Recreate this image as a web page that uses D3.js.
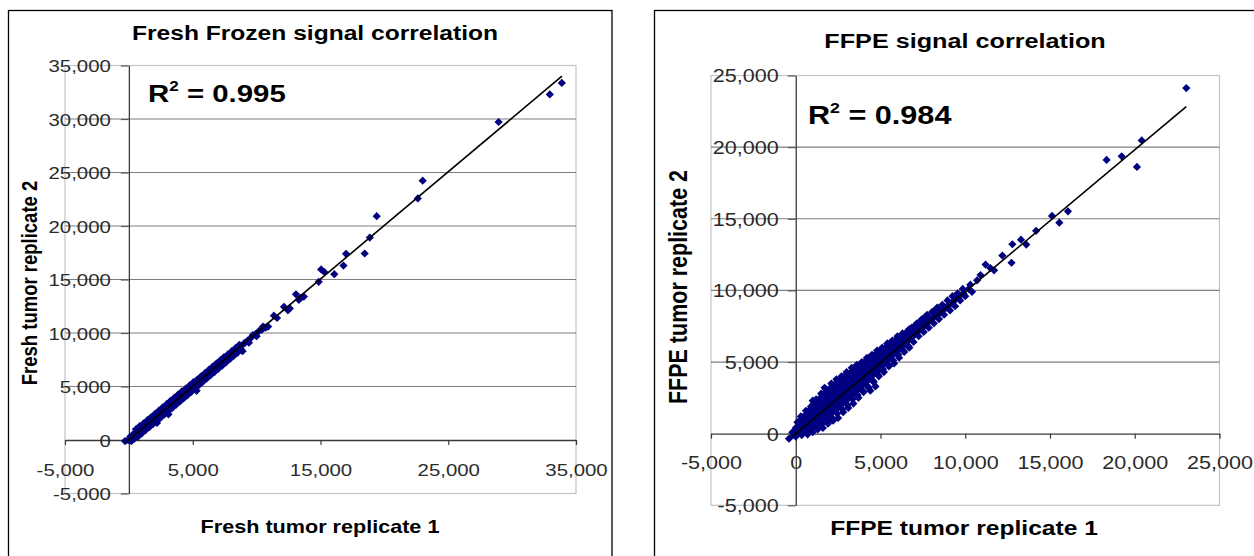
<!DOCTYPE html>
<html>
<head>
<meta charset="utf-8">
<script src="https://cdn.jsdelivr.net/npm/d3@7"></script>
<style>
  body { margin: 0; background: #fff; }
  svg { display: block; }
  text { font-family: "Liberation Sans", Arial, sans-serif; }
</style>
</head>
<body>
<svg id="chart" width="1254" height="556"></svg>
<script>
// ---------------- DATA ----------------
const freshTitle = "Fresh Frozen signal correlation";
const freshXLabel = "Fresh tumor replicate 1";
const freshYLabel = "Fresh tumor replicate 2";
const freshR2 = "0.995";
const freshXTicks = [-5000, 5000, 15000, 25000, 35000];
const freshYTicks = [-5000, 0, 5000, 10000, 15000, 20000, 25000, 30000, 35000];
const freshTrend = [[-200, -200], [33900, 34000]];
// dense core of the point cloud: [x, lowest y, highest y]
const freshCore = [
  [-350,-300,0],[0,-350,450],[1000,550,1450],[2000,1550,2450],[3000,2620,3380],
  [4000,3680,4320],[5000,4720,5280],[6000,5750,6250],[7000,6780,7220],
  [8000,7820,8180],[9000,8850,9150],[10000,9880,10120]
];
const freshPoints = [
  [-300,-100],[0,0],[100,300],[200,-100],[300,500],[400,100],[350,300],
  [600,600],[550,1000],[700,300],[650,800],
  [900,900],[850,1300],[1000,600],[950,1100],
  [1200,1200],[1150,1550],[1300,900],[1250,1400],
  [1500,1500],[1450,1850],[1600,1200],[1550,1700],
  [1800,1800],[1750,2150],[1900,1500],[1850,2000],
  [2100,2100],[2050,2450],[2200,1800],[2150,2300],[2200,1600],
  [2400,2400],[2350,2750],[2500,2100],[2450,2600],
  [2700,2700],[2650,3050],[2800,2400],[2750,2900],
  [3000,3000],[2950,3350],[3100,2700],[3100,2400],
  [3300,3300],[3250,3650],[3400,3000],
  [3600,3600],[3550,3950],[3700,3300],
  [3900,3900],[3850,4250],[4000,3600],
  [4200,4200],[4150,4550],[4300,3900],
  [4500,4500],[4450,4800],[4600,4200],
  [4800,4800],[4750,5100],[4900,4500],
  [5100,5100],[5050,5400],[5200,4800],[5300,4600],
  [5400,5400],[5350,5650],[5500,5150],
  [5700,5700],[5650,5950],[5800,5450],
  [6000,6000],[5950,6250],[6100,5750],
  [6300,6300],[6250,6550],[6400,6050],
  [6600,6600],[6550,6850],[6700,6350],
  [6900,6900],[6850,7150],[7000,6650],
  [7200,7200],[7150,7450],[7300,6950],
  [7500,7500],[7450,7750],[7600,7250],
  [7800,7800],[7750,8000],[7900,7550],
  [8100,8100],[8050,8300],[8200,7850],
  [8400,8400],[8350,8600],[8500,8150],
  [8700,8700],[8650,8900],[8800,8450],[8900,8300],
  [9000,9000],[9100,9100],[9300,9300],[9400,9100],[9600,9600],[9700,9800],
  [9900,9900],[10000,9700],[10200,10200],[10400,10300],[10500,10600],[10700,10500],[10900,10600],
  [11350,11620],[11600,11400],[12140,12450],[12450,12120],[12600,12300],
  [13080,13610],[13450,13280],[13300,13100],[13700,13400],
  [14860,14780],[15050,15940],[15300,15700],[16080,15500],
  [16800,16300],[17000,17400],[18460,17430],[18860,18920],[19400,20920],
  [22620,22580],[23000,24240],[28940,29720],[32950,32300],[33890,33370]
];

const ffpeTitle = "FFPE signal correlation";
const ffpeXLabel = "FFPE tumor replicate 1";
const ffpeYLabel = "FFPE tumor replicate 2";
const ffpeR2 = "0.984";
const ffpeXTicks = [-5000, 0, 5000, 10000, 15000, 20000, 25000];
const ffpeYTicks = [-5000, 0, 5000, 10000, 15000, 20000, 25000];
const ffpeTrend = [[-200, -200], [23040, 22830]];
const ffpeCore = [
  [-400,-400,-250],[0,-300,550],[500,-100,1400],[1000,200,2100],[1500,600,2750],
  [2000,1050,3250],[2500,1550,3750],[3000,2050,4200],[3500,2600,4650],
  [4000,3150,5050],[4500,3750,5450],[5000,4350,5800],[5500,4950,6200],
  [6000,5500,6600],[6500,6050,7000],[7000,6600,7400],[7500,7150,7850],
  [8000,7700,8300],[8500,8200,8750],[9000,8700,9200],[9500,9200,9700],[10000,9750,10150]
];
const ffpePoints = [
  [-400,-350],[-200,100],[0,-200],[0,400],[100,800],[150,0],
  [300,300],[250,900],[350,-100],[300,1200],
  [600,600],[550,1300],[650,100],[600,1600],[700,-50],
  [900,900],[850,1700],[950,300],[900,1900],[1000,100],[850,1300],
  [1200,1200],[1150,2100],[1250,500],[1200,2400],[1300,300],[1150,1700],[1250,800],
  [1500,1500],[1450,2500],[1550,700],[1500,2800],[1600,400],[1450,2000],[1550,1000],
  [1800,1800],[1750,2900],[1850,900],[1800,3100],[1900,700],[1750,2400],[1850,1300],
  [2100,2100],[2050,3200],[2150,1100],[2100,3500],[2200,900],[2050,2700],[2150,1500],
  [2400,2400],[2350,3500],[2450,1400],[2400,3800],[2500,1100],[2350,2900],[2450,1800],
  [2700,2700],[2650,3800],[2750,1700],[2700,4000],[2800,1500],[2650,3300],[2750,2100],
  [3000,3000],[2950,4100],[3050,2000],[3000,4300],[3100,1800],[2950,3600],[3050,2400],
  [3300,3300],[3250,4300],[3350,2400],[3300,4600],[3400,2100],[3250,3900],[3350,2800],
  [3600,3600],[3550,4600],[3650,2700],[3600,4800],[3700,2500],[3550,4200],[3650,3100],
  [3900,3900],[3850,4800],[3950,3000],[3900,5000],[4000,2900],[3850,4400],[3950,3400],
  [4200,4200],[4150,5100],[4250,3300],[4200,5300],[4300,3200],[4150,4700],[4250,3700],
  [4500,4500],[4450,5400],[4550,3700],[4500,5500],[4600,3600],[4450,5000],[4550,4100],
  [4800,4800],[4750,5600],[4850,4100],[4800,5800],[4900,4000],[4750,5300],[4850,4400],
  [5100,5100],[5050,5800],[5150,4500],[5100,6000],[5200,4300],[5050,5500],
  [5400,5400],[5350,6100],[5450,4800],[5400,6300],[5500,4700],
  [5700,5700],[5650,6400],[5750,5100],[5700,6500],[5800,4900],
  [6000,6000],[5950,6600],[6050,5500],[6000,6800],[6100,5300],
  [6300,6300],[6250,6900],[6350,5800],[6300,7000],[6400,5700],
  [6600,6600],[6550,7100],[6650,6100],[6700,7300],[6700,6000],
  [6900,6900],[6850,7400],[6950,6400],[7000,7500],
  [7200,7200],[7150,7700],[7250,6800],[7300,7800],
  [7500,7500],[7450,8000],[7550,7100],[7600,8100],
  [7800,7800],[7750,8300],[7850,7400],
  [8100,8100],[8050,8500],[8150,7700],[8200,8600],
  [8400,8300],[8350,8800],[8450,8000],
  [8700,8600],[8650,9000],[8750,8300],
  [9000,8900],[8950,9300],[9100,8600],
  [9300,9200],[9250,9600],[9400,8900],
  [9600,9500],[9550,9800],[9700,9300],
  [9900,9800],[9850,10100],[10000,9600],
  [10200,10100],[10300,10400],[10400,9900],
  [4400,3000],[4700,3300],[1000,2300],[1700,3200],
  [10700,10700],[10900,11070],[11200,11800],[11480,11560],[11700,11400],
  [12190,12430],[12730,11930],[12780,13220],[13290,13540],[13600,13200],
  [14180,14160],[15120,15200],[15550,14730],[16060,15520],
  [18340,19110],[19230,19360],[20130,18620],[20410,20470],[23040,24120]
];

// ---------------- DRAWING ----------------
const SX = 1.2;            // horizontal stretch seen in the source image
const fmt = d => d3.format(",")(d).replace("\u2212", "-");
const svg = d3.select("#chart");
const NAVY = "#000080";

function stretchedText(g, x, y, str, size, anchor, weight, rotate) {
  return g.append("text")
    .attr("transform", `translate(${x},${y}) scale(${SX},1)` + (rotate ? ` rotate(${rotate})` : ""))
    .attr("text-anchor", anchor)
    .attr("font-size", size)
    .attr("font-weight", weight)
    .attr("fill", "#000")
    .text(str);
}

function panel(p) {
  const g = svg.append("g");
  const x = d3.scaleLinear().domain(p.xDomain).range(p.xRange);
  const y = d3.scaleLinear().domain(p.yDomain).range(p.yRange);
  const [x0, x1] = p.xRange;
  const [yb, yt] = p.yRange;

  // outer chart frame
  g.append("rect")
    .attr("x", p.frame[0]).attr("y", p.frame[1])
    .attr("width", p.frame[2]).attr("height", p.frame[3])
    .attr("fill", "#fff").attr("stroke", "#000").attr("stroke-width", 1.3);

  // plot-area border
  g.append("rect")
    .attr("x", x0).attr("y", yt)
    .attr("width", x1 - x0).attr("height", yb - yt)
    .attr("fill", "none").attr("stroke", "#c4c4c4").attr("stroke-width", 1.2);

  // horizontal gridlines
  g.selectAll("line.grid")
    .data(p.yTicks.filter(t => t > 0 && t < p.yDomain[1]))
    .join("line")
    .attr("class", "grid")
    .attr("x1", x0).attr("x2", x1)
    .attr("y1", d => y(d)).attr("y2", d => y(d))
    .attr("stroke", "#7f7f7f").attr("stroke-width", 1.2);

  // x axis (crosses at y = 0)
  const xa = g.append("g")
    .attr("transform", `translate(0,${y(0)})`)
    .call(d3.axisBottom(x).tickValues(p.xTicks).tickSize(5).tickSizeOuter(0).tickFormat(fmt));
  xa.select(".domain").attr("stroke", "#3a3a3a").attr("stroke-width", 1.3);
  xa.selectAll(".tick line").attr("stroke", "#3a3a3a").attr("stroke-width", 1.2);
  xa.selectAll(".tick text")
    .attr("y", null).attr("dy", null)
    .attr("transform", `translate(0,${p.xLabelOffset}) scale(${SX},1)`)
    .attr("font-size", p.tickFont).attr("fill", "#2a2a2a")
    .attr("font-family", '"Liberation Sans", Arial, sans-serif');

  // y axis (crosses at x = 0)
  const ya = g.append("g")
    .attr("transform", `translate(${x(0)},0)`)
    .call(d3.axisLeft(y).tickValues(p.yTicks).tickSize(p.yTickLen).tickSizeOuter(0).tickFormat(fmt));
  ya.select(".domain").attr("stroke", "#3a3a3a").attr("stroke-width", 1.3);
  ya.selectAll(".tick line").attr("stroke", "#5a5a5a").attr("stroke-width", 1.2);
  ya.selectAll(".tick text")
    .attr("x", null).attr("dy", "0.36em")
    .attr("transform", `translate(${-p.yLabelGap},0) scale(${SX},1)`)
    .attr("font-size", p.tickFont).attr("fill", "#2a2a2a")
    .attr("font-family", '"Liberation Sans", Arial, sans-serif');

  // dense core of the cloud
  g.append("path")
    .datum(p.core)
    .attr("d", d3.area().x(d => x(d[0])).y0(d => y(d[1])).y1(d => y(d[2])))
    .attr("fill", NAVY);

  // points (diamond markers)
  const h = 4.1;
  g.append("g").selectAll("path")
    .data(p.points)
    .join("path")
    .attr("d", `M0,${-h}L${h},0L0,${h}L${-h},0Z`)
    .attr("transform", d => `translate(${x(d[0])},${y(d[1])})`)
    .attr("fill", NAVY);

  // trendline
  g.append("path")
    .datum(p.trend)
    .attr("d", d3.line().x(d => x(d[0])).y(d => y(d[1])))
    .attr("fill", "none").attr("stroke", "#000").attr("stroke-width", 1.6);

  // title
  stretchedText(g, p.titlePos[0], p.titlePos[1], p.title, p.titleFont, "middle", "bold");
  // axis titles
  stretchedText(g, p.xTitlePos[0], p.xTitlePos[1], p.xLabel, p.axisFont, "middle", "bold");
  stretchedText(g, p.yTitlePos[0], p.yTitlePos[1], p.yLabel, p.yAxisFont, "middle", "bold", -90);

  // R^2 annotation
  const r = g.append("text")
    .attr("transform", `translate(${p.r2Pos[0]},${p.r2Pos[1]}) scale(${SX},1)`)
    .attr("font-size", p.r2Font).attr("font-weight", "bold").attr("fill", "#000");
  r.append("tspan").text("R");
  r.append("tspan").attr("font-size", p.r2Font * 0.58).attr("dy", -p.r2Font * 0.45).text("2");
  r.append("tspan").attr("dy", p.r2Font * 0.45).text(" = " + p.r2);
}

panel({
  frame: [8.5, 10.5, 603.5, 600],
  xDomain: [-5000, 35000], xRange: [65, 576],
  yDomain: [-5000, 35000], yRange: [493.5, 65.5],
  xTicks: freshXTicks, yTicks: freshYTicks,
  points: freshPoints, core: freshCore, trend: freshTrend,
  title: freshTitle, xLabel: freshXLabel, yLabel: freshYLabel, r2: freshR2,
  titlePos: [315, 40], titleFont: 20.5,
  xTitlePos: [320, 533], axisFont: 18,
  yTitlePos: [37, 283], yAxisFont: 18.5,
  r2Pos: [148, 102], r2Font: 24.5,
  tickFont: 17, xLabelOffset: 36, yTickLen: 8, yLabelGap: 18
});

panel({
  frame: [654.5, 10.5, 700, 600],
  xDomain: [-5000, 25000], xRange: [711, 1219.5],
  yDomain: [-5000, 25000], yRange: [505.3, 75.5],
  xTicks: ffpeXTicks, yTicks: ffpeYTicks,
  points: ffpePoints, core: ffpeCore, trend: ffpeTrend,
  title: ffpeTitle, xLabel: ffpeXLabel, yLabel: ffpeYLabel, r2: ffpeR2,
  titlePos: [965, 48], titleFont: 21,
  xTitlePos: [964, 535], axisFont: 20.5,
  yTitlePos: [687, 287], yAxisFont: 21.5,
  r2Pos: [808, 124], r2Font: 25.5,
  tickFont: 18, xLabelOffset: 35, yTickLen: 8, yLabelGap: 17
});
</script>
</body>
</html>
